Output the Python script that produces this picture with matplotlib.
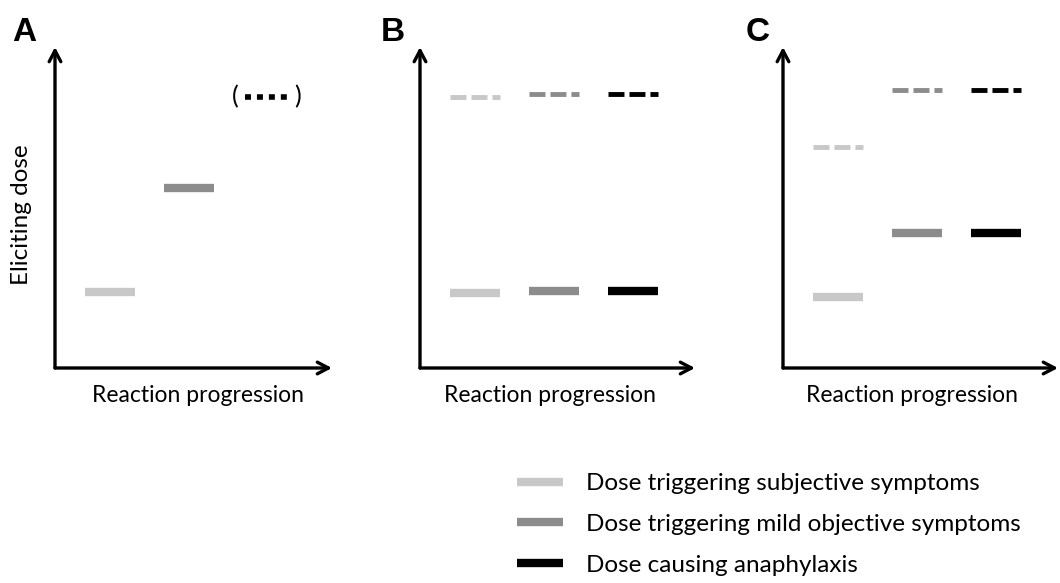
import matplotlib.pyplot as plt
from matplotlib.lines import Line2D

plt.rcParams['font.family'] = ['Lato', 'DejaVu Sans']
plt.rcParams['lines.scale_dashes'] = False

# eliciting dose per stage (1 = subjective, 2 = mild objective, 3 = anaphylaxis)
stages = [1, 2, 3]
colors = ['#c8c8c8', '#8c8c8c', '#000000']
legend_labels = ['Dose triggering subjective symptoms',
                 'Dose triggering mild objective symptoms',
                 'Dose causing anaphylaxis']

# solid = observed dose, dashed = upper dose level (None = not drawn)
A_solid = [2.37, 5.6, None]
A_dashed = [None, None, 8.45]
B_solid = [2.33, 2.4, 2.4]
B_dashed = [8.45, 8.55, 8.55]
C_solid = [2.2, 4.2, 4.2]
C_dashed = [6.9, 8.65, 8.65]

panels = ['A', 'B', 'C']
solids = [A_solid, B_solid, C_solid]
dasheds = [A_dashed, B_dashed, C_dashed]

W, H = 1060, 583
fig = plt.figure(figsize=(W / 100, H / 100), dpi=100)

# axes geometry in pixels: (left, right)
ax_px = [(55, 332), (420, 695), (783, 1058)]
ax_bottom, ax_top = 368, 47
px_per_stage = 79.0
first_offset = 55.0
half = 0.32

xlab_x = [198, 550, 912]
letter_x = [12, 381, 746]

for i, name in enumerate(panels):
    l, r = ax_px[i]
    ax = fig.add_axes([l / W, (H - ax_bottom) / H, (r - l) / W, (ax_bottom - ax_top) / H])
    x0 = 1 - first_offset / px_per_stage
    ax.set_xlim(x0, x0 + (r - l) / px_per_stage)
    ax.set_ylim(0, 10)
    ax.axis('off')

    # arrows for axes
    arrow = dict(arrowstyle='->,head_length=0.8,head_width=0.42', lw=2.4, color='black',
                 shrinkA=0, shrinkB=0)
    ax.annotate('', xy=(0, 1), xytext=(0, 0), xycoords='axes fraction', arrowprops=arrow)
    ax.annotate('', xy=(1, 0), xytext=(0, 0), xycoords='axes fraction', arrowprops=arrow)

    for s, y, c in zip(stages, solids[i], colors):
        if y is not None:
            ax.plot([s - half, s + half], [y, y], color=c, lw=6, solid_capstyle='butt')
    for s, y, c in zip(stages, dasheds[i], colors):
        if y is None:
            continue
        if name == 'A':
            ax.plot([s - 0.29, s + 0.29], [y, y], color=c, lw=4,
                    dashes=(4.3, 4.3), dash_capstyle='butt')
            ax.text(s - 0.42, y, '(', ha='center', va='center', fontsize=18)
            ax.text(s + 0.38, y, ')', ha='center', va='center', fontsize=18)
        else:
            ax.plot([s - half, s + half], [y, y], color=c, lw=3.5,
                    dashes=(11.5, 3.6), dash_capstyle='butt')

    fig.text(xlab_x[i] / W, 1 - 395 / H, 'Reaction progression', ha='center', va='center',
             fontsize=16.5)
    fig.text(letter_x[i] / W, 1 - 41 / H, name, ha='left', va='baseline', fontsize=24,
             fontweight='bold', family='Liberation Sans')

fig.text(22 / W, 1 - 215 / H, 'Eliciting dose', rotation=90, ha='center', va='center',
         fontsize=17.5)

handles = [Line2D([0], [0], color=c, lw=6, solid_capstyle='butt') for c in colors]
fig.legend(handles, legend_labels, loc='upper left', bbox_to_anchor=(517 / W, 1 - 473 / H),
           frameon=False, fontsize=17.5, handlelength=1.9, handletextpad=0.95,
           labelspacing=0.82, borderpad=0, borderaxespad=0)

fig.savefig('out.png', dpi=100)
